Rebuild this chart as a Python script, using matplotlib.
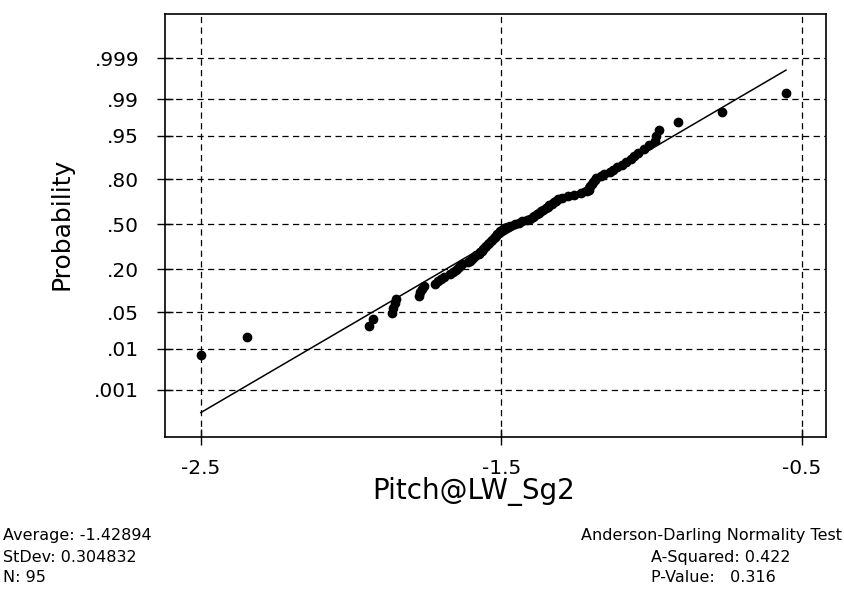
import matplotlib
matplotlib.use("Agg")
import matplotlib.pyplot as plt
import numpy as np
from statistics import NormalDist

# Valeurs triées (N = 95)
pitch = [
    -2.500, -2.347, -1.940, -1.927, -1.865, -1.860, -1.855, -1.850,
    -1.775, -1.770, -1.765, -1.757, -1.720, -1.710, -1.700, -1.690,
    -1.670, -1.660, -1.652, -1.645, -1.638, -1.630, -1.612, -1.605,
    -1.598, -1.590, -1.583, -1.576, -1.570, -1.565, -1.560, -1.555,
    -1.550, -1.545, -1.540, -1.535, -1.530, -1.526, -1.522, -1.518,
    -1.513, -1.508, -1.503, -1.497, -1.490, -1.480, -1.470, -1.455,
    -1.440, -1.430, -1.415, -1.405, -1.395, -1.390, -1.383, -1.375,
    -1.368, -1.360, -1.352, -1.345, -1.340, -1.333, -1.325, -1.318,
    -1.310, -1.300, -1.280, -1.260, -1.235, -1.215, -1.210, -1.208,
    -1.205, -1.200, -1.195, -1.190, -1.185, -1.170, -1.160, -1.140,
    -1.130, -1.115, -1.100, -1.085, -1.070, -1.060, -1.045, -1.025,
    -1.010, -0.990, -0.985, -0.975, -0.913, -0.767, -0.553,
]
moyenne = -1.42894
ecart_type = 0.304832
a_carre = 0.422
p_valeur = 0.316

prob_ticks = [0.001, 0.01, 0.05, 0.20, 0.50, 0.80, 0.95, 0.99, 0.999]
prob_labels = ['.001', '.01', '.05', '.20', '.50', '.80', '.95', '.99', '.999']
x_ticks = [-2.5, -1.5, -0.5]
x_labels = ['-2.5', '-1.5', '-0.5']

nd = NormalDist()
n = len(pitch)
x = np.sort(np.array(pitch))
# positions de tracé (i - 0.3) / (n + 0.4)
z = np.array([nd.inv_cdf((i - 0.3) / (n + 0.4)) for i in range(1, n + 1)])

fig = plt.figure(figsize=(8.45, 5.93), dpi=100)
ax = fig.add_axes([0.195, 0.263, 0.7825, 0.7134])

ax.plot(x, z, 'o', color='black', markersize=6, zorder=3)
xl = np.array([x.min(), x.max()])
ax.plot(xl, (xl - moyenne) / ecart_type, '-', color='black', linewidth=1.1, zorder=2)

ax.set_xlim(-2.62, -0.42)
ax.set_ylim(-3.97, 3.92)
ax.set_yticks([nd.inv_cdf(p) for p in prob_ticks])
ax.set_yticklabels(prob_labels)
ax.set_xticks(x_ticks)
ax.set_xticklabels(x_labels)
ax.grid(True, color='black', linestyle=(0, (5, 3.5)), linewidth=0.9)
ax.tick_params(direction='inout', length=11, width=1, labelsize=14.5, colors='black')
ax.tick_params(axis='y', pad=13)
ax.tick_params(axis='x', pad=10)
for s in ax.spines.values():
    s.set_linewidth(1.2)

ax.set_xlabel('Pitch@LW_Sg2', fontsize=20)
ax.xaxis.set_label_coords(0.467, -0.128)
ax.xaxis.label.set_va('center')
ax.set_ylabel('Probability', fontsize=18)
ax.yaxis.set_label_coords(-0.156, 0.504)
ax.yaxis.label.set_va('center')

fig.text(0.003, 0.0978, f'Average: {moyenne}', fontsize=11.5, va='center')
fig.text(0.003, 0.0607, f'StDev: {ecart_type}', fontsize=11.5, va='center')
fig.text(0.003, 0.0253, f'N: {n}', fontsize=11.5, va='center')
fig.text(0.997, 0.0978, 'Anderson-Darling Normality Test', fontsize=11.5, va='center', ha='right')
fig.text(0.770, 0.0607, f'A-Squared: {a_carre}', fontsize=11.5, va='center')
fig.text(0.770, 0.0253, f'P-Value:   {p_valeur}', fontsize=11.5, va='center')

fig.savefig('out.png', dpi=100)
